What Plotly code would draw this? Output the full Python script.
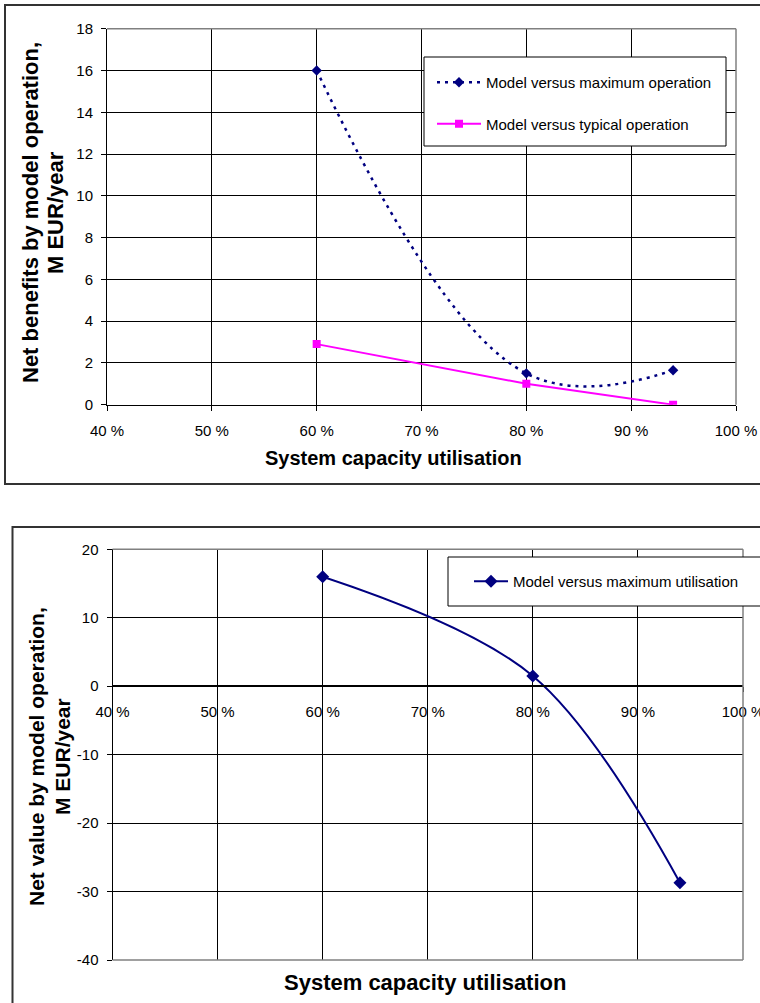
import plotly.graph_objects as go

# ---- data -------------------------------------------------------------
utilisation = [60, 80, 94]                      # system capacity utilisation, %
benefit_vs_max = [16.0, 1.5, 1.65]              # M EUR/year
benefit_vs_typical = [2.9, 1.0, 0.0]            # M EUR/year
value_vs_max = [16.0, 1.5, -28.7]               # M EUR/year

x_ticks = [40, 50, 60, 70, 80, 90, 100]
x_ticktext = [f"{v} %" for v in x_ticks]
top_y_ticks = [0, 2, 4, 6, 8, 10, 12, 14, 16, 18]
bottom_y_ticks = [-40, -30, -20, -10, 0, 10, 20]
bottom_y_ticktext = [str(v) for v in bottom_y_ticks]

# ---- styling ----------------------------------------------------------
W, H = 760, 1003
NAVY = "#000080"
MAGENTA = "#FF00FF"
FONT = "Liberation Sans, Arial, sans-serif"


def px(x):
    return x / W


def py(y):
    return 1 - y / H


top_x_dom = [px(107), px(736)]
top_y_dom = [py(404.7), py(28.7)]
bot_x_dom = [px(112.5), px(743)]
bot_y_dom = [py(960), py(549.3)]
bot_y_range = [-40, 20]
# paper position of y = 0 in the lower chart (x axis crosses there)
zero_pos = bot_y_dom[0] + (bot_y_dom[1] - bot_y_dom[0]) * (0 - bot_y_range[0]) / (bot_y_range[1] - bot_y_range[0])

fig = go.Figure()

fig.add_trace(go.Scatter(
    x=utilisation, y=benefit_vs_max, mode="lines+markers",
    name="Model versus maximum operation",
    line=dict(color=NAVY, width=2.5, dash="3px,5px", shape="spline", smoothing=1.15),
    marker=dict(symbol="diamond", size=8, color=NAVY),
    xaxis="x", yaxis="y", legend="legend", legendgroup="max",
))
fig.add_trace(go.Scatter(
    x=utilisation, y=benefit_vs_typical, mode="lines+markers",
    name="Model versus typical operation",
    line=dict(color=MAGENTA, width=2),
    marker=dict(symbol="square", size=8, color=MAGENTA),
    xaxis="x", yaxis="y", legend="legend", legendgroup="typ",
))
fig.add_trace(go.Scatter(
    x=utilisation, y=value_vs_max, mode="lines+markers",
    name="Model versus maximum utilisation",
    line=dict(color=NAVY, width=2, shape="spline", smoothing=1),
    marker=dict(symbol="diamond", size=10, color=NAVY),
    xaxis="x2", yaxis="y2", legend="legend2",
))

tick_font = dict(family=FONT, size=15, color="#000")
common_x = dict(
    range=[40, 100], tickvals=x_ticks, ticktext=x_ticktext,
    showgrid=True, gridcolor="#000", gridwidth=1,
    zeroline=False, ticks="outside", ticklen=5, tickcolor="#000",
    tickfont=tick_font, ticklabeloverflow="allow", ticklabelstandoff=7,
    automargin=False,
)
common_y = dict(
    showgrid=True, gridcolor="#000", gridwidth=1,
    showline=True, linecolor="#000", linewidth=1,
    ticks="outside", ticklen=5, tickcolor="#000",
    tickfont=tick_font, ticklabelstandoff=5, automargin=False,
)

fig.update_layout(
    width=W, height=H,
    margin=dict(l=0, r=0, t=0, b=0, autoexpand=False),
    paper_bgcolor="white", plot_bgcolor="white",
    font=dict(family=FONT, color="#000"),
    xaxis=dict(domain=top_x_dom, anchor="y", showline=True, linecolor="#000",
               linewidth=1, **common_x),
    yaxis=dict(domain=top_y_dom, anchor="x", range=[0, 18], tickvals=top_y_ticks,
               zeroline=False, **common_y),
    xaxis2=dict(domain=bot_x_dom, anchor="free", position=zero_pos,
                showline=True, linecolor="#000", linewidth=2, **common_x),
    yaxis2=dict(domain=bot_y_dom, anchor="x2", range=bot_y_range,
                tickvals=bottom_y_ticks, ticktext=bottom_y_ticktext,
                zeroline=False, **common_y),
    legend=dict(
        x=px(432), y=py(66), xanchor="left", yanchor="top",
        bgcolor="rgba(0,0,0,0)", borderwidth=0,
        font=dict(family=FONT, size=15, color="#000"),
        tracegroupgap=19, itemwidth=44,
    ),
    legend2=dict(
        x=px(469), y=py(565), xanchor="left", yanchor="top",
        bgcolor="rgba(0,0,0,0)", borderwidth=0,
        font=dict(family=FONT, size=15, color="#000"),
        itemwidth=34,
    ),
    showlegend=True,
)

GRAY = "#808080"
shapes = [
    # grey plot-area borders (top and right edges, bottom edge of lower chart)
    dict(type="line", xref="x domain", yref="y domain", x0=0, x1=1, y0=1, y1=1,
         line=dict(color=GRAY, width=1.5), layer="above"),
    dict(type="line", xref="x domain", yref="y domain", x0=1, x1=1, y0=0, y1=1,
         line=dict(color=GRAY, width=1.5), layer="above"),
    dict(type="line", xref="x2 domain", yref="y2 domain", x0=0, x1=1, y0=1, y1=1,
         line=dict(color=GRAY, width=1.5), layer="above"),
    dict(type="line", xref="x2 domain", yref="y2 domain", x0=1, x1=1, y0=0, y1=1,
         line=dict(color=GRAY, width=1.5), layer="above"),
    dict(type="line", xref="x2 domain", yref="y2 domain", x0=0, x1=1, y0=0, y1=0,
         line=dict(color=GRAY, width=1.5), layer="above"),
    # outer chart frames
    dict(type="rect", xref="paper", yref="paper", x0=px(5), x1=px(780), y0=py(484), y1=py(5),
         line=dict(color="#333", width=2)),
    dict(type="rect", xref="paper", yref="paper", x0=px(12.5), x1=px(780), y0=py(1030), y1=py(527),
         line=dict(color="#333", width=2)),
    # legend boxes
    dict(type="rect", xref="paper", yref="paper", x0=px(424), x1=px(726), y0=py(146), y1=py(57),
         line=dict(color="#000", width=1), fillcolor="white", layer="above"),
    dict(type="rect", xref="paper", yref="paper", x0=px(448), x1=px(790), y0=py(606), y1=py(557),
         line=dict(color="#000", width=1), fillcolor="white", layer="above"),
]
fig.update_layout(shapes=shapes)

title_font_x1 = dict(family=FONT, size=20, color="#000")
title_font_x2 = dict(family=FONT, size=22, color="#000")
title_font_y1 = dict(family=FONT, size=22, color="#000")
title_font_y2 = dict(family=FONT, size=21, color="#000")

annotations = [
    dict(text="<b>System capacity utilisation</b>", x=px(393), y=py(458),
         font=title_font_x1),
    dict(text="<b>Net benefits by model operation,</b>", x=px(30), y=py(213),
         textangle=-90, font=title_font_y1),
    dict(text="<b>M EUR/year</b>", x=px(55), y=py(213), textangle=-90, font=title_font_y1),
    dict(text="<b>System capacity utilisation</b>", x=px(425), y=py(982),
         font=title_font_x2),
    dict(text="<b>Net value by model operation,</b>", x=px(36), y=py(757),
         textangle=-90, font=title_font_y2),
    dict(text="<b>M EUR/year</b>", x=px(62), y=py(757), textangle=-90, font=title_font_y2),
]
for a in annotations:
    a.update(xref="paper", yref="paper", showarrow=False, xanchor="center", yanchor="middle")
fig.update_layout(annotations=annotations)

fig.write_html("out.html")
